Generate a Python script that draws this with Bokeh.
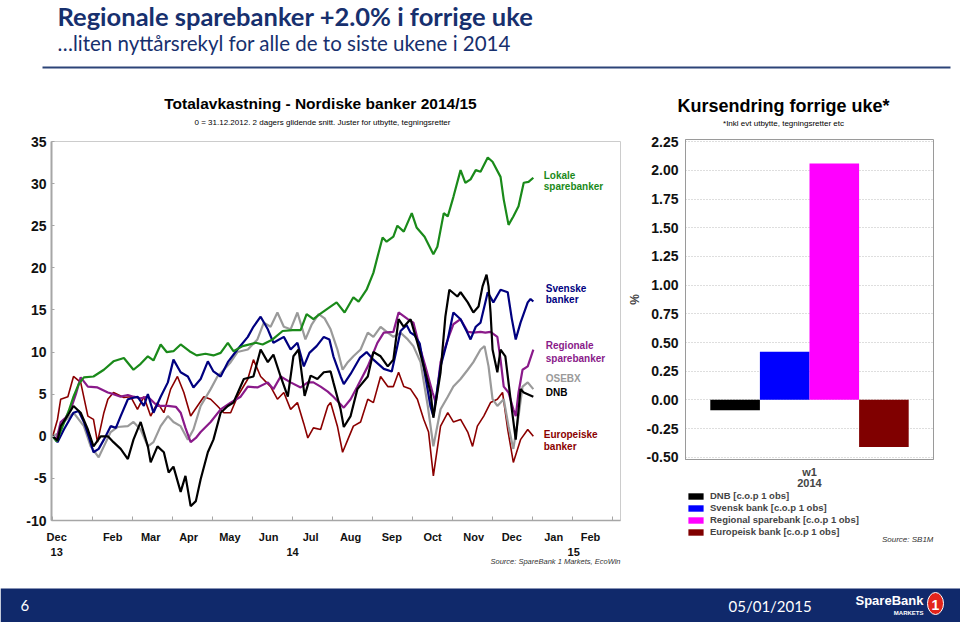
from bokeh.plotting import figure
from bokeh.layouts import column, row
from bokeh.models import (Range1d, FixedTicker, LinearAxis, Legend, LegendItem,
                          NumeralTickFormatter, ColumnDataSource)
from bokeh.core.properties import value
from bokeh.embed import file_html
from bokeh.resources import INLINE

# ---------------- data (x = months after 31.12.2013) ----------------
lokale_m = [0, 0.1, 0.25, 0.4, 0.52, 0.65, 0.78, 1.02, 1.28, 1.52, 1.78, 2.02, 2.2, 2.38, 2.52, 2.7, 2.85,
            3.02, 3.2, 3.42, 3.6, 3.82, 4.02, 4.2, 4.38, 4.52, 4.75, 5.08, 5.25, 5.5, 5.75, 6.0, 6.2, 6.35,
            6.52, 6.68, 6.92, 7.1, 7.3, 7.52, 7.65, 7.85, 8.02, 8.15, 8.25, 8.35, 8.52, 8.62, 8.78, 8.98,
            9.1, 9.3, 9.52, 9.62, 9.78, 9.88, 10.02, 10.2, 10.32, 10.45, 10.58, 10.7, 10.88, 11.0, 11.2,
            11.28, 11.4, 11.52, 11.65, 11.78, 11.9, 12.02]
lokale = [0, -0.6, 1.2, 3.0, 4.7, 6.2, 7.0, 7.1, 7.9, 8.9, 9.3, 7.9, 8.6, 9.5, 9.0, 10.9, 10.0,
          10.1, 10.9, 10.1, 9.6, 9.8, 9.6, 9.9, 11.1, 10.1, 10.7, 11.1, 10.9, 11.5, 12.5, 12.6, 12.6, 14.5,
          13.9, 14.5, 15.3, 15.9, 14.7, 16.5, 16.0, 17.4, 19.4, 21.8, 23.6, 23.1, 23.7, 25.0, 24.3, 26.5,
          24.8, 23.7, 21.6, 22.5, 26.5, 26.1, 28.4, 31.6, 30.1, 30.5, 31.6, 31.4, 33.1, 32.6, 30.8,
          28.1, 25.1, 26.1, 27.3, 30.1, 30.2, 30.7]

svenske_m = [0, 0.12, 0.28, 0.52, 0.65, 0.78, 0.9, 1.02, 1.15, 1.28, 1.45, 1.58, 1.7, 1.88, 2.12, 2.28,
             2.38, 2.52, 2.7, 2.88, 3.02, 3.2, 3.38, 3.52, 3.7, 3.88, 4.02, 4.2, 4.38, 4.62, 4.88, 5.02,
             5.2, 5.38, 5.52, 5.78, 5.95, 6.12, 6.28, 6.42, 6.6, 6.78, 6.92, 7.02, 7.2, 7.28, 7.45, 7.68,
             7.85, 8.02, 8.28, 8.48, 8.6, 8.7, 8.85, 8.95, 9.05, 9.18, 9.32, 9.45, 9.52, 9.7, 9.88, 10.02,
             10.2, 10.35, 10.45, 10.58, 10.7, 10.88, 11.02, 11.2, 11.38, 11.48, 11.58, 11.7, 11.88, 11.95,
             12.02]
svenske = [0, -0.7, 0.8, 2.8, 3.0, 1.7, 0.0, -1.9, -1.5, -0.4, 1.2, 1.0, 2.4, 4.4, 4.7, 3.6,
           5.0, 2.8, 4.7, 6.4, 9.1, 7.6, 7.1, 5.8, 6.8, 8.9, 7.7, 7.1, 8.8, 10.3, 11.8, 13.0,
           14.2, 12.7, 11.1, 11.8, 10.3, 11.1, 8.3, 9.9, 10.7, 11.8, 11.5, 9.5, 7.1, 6.2, 7.4, 9.3,
           10.0, 9.1, 8.0, 7.7, 10.3, 12.5, 13.2, 12.3, 12.0, 11.0, 7.1, 3.5, 2.4, 8.3, 11.5, 14.7,
           13.9, 12.5, 11.5, 13.0, 13.5, 17.1, 15.9, 17.4, 17.1, 14.0, 11.5, 13.5, 15.9, 16.3,
           16.0]

regionale_m = [0, 0.1, 0.2, 0.32, 0.45, 0.58, 0.7, 0.88, 1.12, 1.38, 1.52, 1.7, 1.88, 2.02, 2.2, 2.38,
               2.62, 2.88, 3.08, 3.2, 3.32, 3.45, 3.58, 3.7, 3.95, 4.2, 4.45, 4.7, 4.88, 5.12, 5.38, 5.52,
               5.7, 5.95, 6.2, 6.38, 6.52, 6.7, 6.88, 7.02, 7.28, 7.45, 7.62, 7.88, 8.12, 8.28, 8.52, 8.65,
               8.88, 9.02, 9.15, 9.32, 9.5, 9.58, 9.7, 9.88, 10.02, 10.2, 10.38, 10.52, 10.7, 10.82, 10.95,
               11.12, 11.2, 11.28, 11.4, 11.52, 11.58, 11.65, 11.75, 11.88, 12.02]
regionale = [0, -0.3, 1.7, 2.2, 3.2, 5.0, 7.0, 5.9, 5.8, 5.2, 5.0, 4.7, 4.9, 4.7, 4.5, 4.7,
             3.6, 3.6, 3.5, 2.8, 1.0, -0.7, -0.2, 0.5, 1.7, 3.2, 4.0, 4.7, 5.9, 5.8, 6.4, 5.6,
             7.1, 6.4, 5.8, 6.4, 6.4, 5.9, 5.3, 4.7, 3.4, 4.4, 5.9, 8.3, 11.1, 12.3, 12.4, 14.7,
             13.9, 13.5, 11.1, 8.3, 5.2, 4.0, 8.8, 11.5, 13.3, 13.9, 12.4, 12.3, 12.4, 12.3, 12.4,
             11.8, 9.1, 5.9, 5.2, 3.2, 2.4, 5.2, 7.9, 8.3, 10.3]

osebx_m = [0, 0.12, 0.28, 0.52, 0.78, 0.95, 1.15, 1.28, 1.45, 1.62, 1.88, 2.02, 2.2, 2.38, 2.52, 2.7,
           2.88, 3.02, 3.2, 3.38, 3.52, 3.7, 3.95, 4.12, 4.28, 4.45, 4.62, 4.88, 5.12, 5.28, 5.45, 5.62,
           5.78, 5.95, 6.12, 6.32, 6.48, 6.65, 6.8, 6.95, 7.12, 7.25, 7.38, 7.52, 7.7, 7.88, 8.02, 8.2,
           8.38, 8.52, 8.7, 8.88, 9.02, 9.2, 9.38, 9.52, 9.7, 9.88, 10.02, 10.2, 10.38, 10.52, 10.7,
           10.8, 10.9, 11.0, 11.12, 11.28, 11.4, 11.52, 11.65, 11.75, 11.88, 12.02]
osebx = [0, 0.3, 1.7, 2.8, 1.2, -1.2, -2.5, -1.2, 0.5, 1.1, 1.2, 1.7, 0.8, -1.2, -0.7, 1.2,
         2.4, 1.7, 1.2, -0.4, 0.8, 3.6, 5.6, 7.1, 7.9, 8.8, 10.0, 10.3, 11.5, 13.5, 13.0, 14.7,
         13.0, 12.7, 14.7, 11.5, 13.3, 14.5, 14.0, 12.7, 10.3, 7.9, 8.8, 9.5, 10.3, 12.3, 11.8, 13.0,
         12.3, 11.8, 12.3, 11.5, 10.7, 8.8, 3.6, -1.2, 3.2, 4.7, 5.9, 6.8, 7.9, 8.8, 10.3,
         10.7, 8.3, 4.4, 3.6, 4.4, 1.2, -1.5, 2.4, 5.9, 6.4, 5.6]

dnb_m = [0, 0.12, 0.2, 0.38, 0.52, 0.7, 0.88, 1.02, 1.2, 1.38, 1.52, 1.7, 1.88, 2.02, 2.2, 2.38, 2.45,
         2.62, 2.78, 2.9, 3.02, 3.2, 3.32, 3.45, 3.58, 3.7, 3.88, 4.02, 4.2, 4.38, 4.52, 4.78, 5.02,
         5.2, 5.38, 5.52, 5.7, 5.88, 6.02, 6.15, 6.3, 6.45, 6.62, 6.78, 6.95, 7.02, 7.2, 7.28, 7.45,
         7.62, 7.88, 8.02, 8.2, 8.38, 8.52, 8.65, 8.78, 8.95, 9.12, 9.28, 9.45, 9.52, 9.7, 9.82, 9.92,
         10.12, 10.2, 10.38, 10.52, 10.65, 10.75, 10.85, 10.9, 10.95, 11.0, 11.12, 11.2, 11.32, 11.45,
         11.58, 11.7, 11.78, 12.02]
dnb = [0, -0.5, 1.2, 2.5, 3.6, 2.8, 0.8, -1.2, 0.0, 0.0, -0.7, -1.5, -2.7, -0.4, 1.7, -1.2, -3.1,
       -1.2, -1.9, -4.3, -3.6, -6.6, -4.7, -8.3, -7.7, -5.1, -1.9, -0.4, 2.8, 3.6, 4.0, 6.8, 7.1,
       10.3, 8.8, 9.7, 7.1, 4.7, 9.5, 10.3, 4.8, 7.2, 6.8, 7.6, 7.7, 6.4, 3.2, 1.1, 2.4,
       5.6, 7.1, 10.0, 9.5, 8.3, 9.1, 13.9, 13.0, 13.9, 11.1, 8.3, 5.2, 2.2, 7.6, 14.2, 17.4,
       16.6, 17.1, 15.9, 14.7, 15.4, 17.8, 19.2, 17.8, 14.7, 10.3, 7.6, 10.3, 9.5, 4.4,
       -0.4, 5.6, 5.2, 4.7]

europa_m = [0, 0.12, 0.2, 0.38, 0.52, 0.7, 0.88, 1.02, 1.12, 1.28, 1.38, 1.52, 1.78, 1.95, 2.12, 2.28,
            2.45, 2.62, 2.78, 2.95, 3.12, 3.28, 3.45, 3.62, 3.78, 3.95, 4.12, 4.28, 4.45, 4.62, 4.88,
            5.02, 5.2, 5.45, 5.62, 5.78, 5.95, 6.12, 6.28, 6.38, 6.52, 6.7, 6.88, 6.95, 7.12, 7.25, 7.38,
            7.52, 7.7, 7.88, 8.02, 8.2, 8.38, 8.52, 8.65, 8.78, 8.95, 9.12, 9.28, 9.4, 9.52, 9.7, 9.88,
            10.02, 10.2, 10.38, 10.5, 10.62, 10.78, 10.95, 11.12, 11.25, 11.38, 11.52, 11.7, 11.88, 12.02]
europa = [0, 2.0, 4.4, 4.7, 7.1, 6.4, 2.4, 2.0, -0.7, 2.8, 4.4, 5.2, 4.6, 4.7, 3.2, 4.7,
          2.4, 4.0, 2.8, 5.6, 7.1, 5.2, 2.4, 3.6, 4.7, 4.4, 3.6, 2.8, 2.8, 4.7, 6.8,
          9.1, 7.1, 5.9, 4.4, 5.2, 3.2, 4.0, 1.5, -0.2, 1.0, 0.8, 3.6, 4.0, 1.2, -1.9, -0.4,
          1.2, 1.7, 4.4, 4.0, 7.1, 5.9, 5.9, 7.6, 5.9, 5.6, 4.4, 2.0, 0.5, -4.7, 1.2, 2.8,
          1.7, 2.0, 0.5, -1.2, 1.2, 2.4, 4.0, 4.4, 5.2, 0.8, -3.1, -0.4, 0.8, 0.0]

y_ticks = [-10, -5, 0, 5, 10, 15, 20, 25, 30, 35]
month_labels = ["Dec", "Feb", "Mar", "Apr", "May", "Jun", "Jul", "Aug", "Sep", "Oct", "Nov", "Dec", "Jan", "Feb"]
month_pos = [0.1, 1.5, 2.45, 3.4, 4.43, 5.4, 6.45, 7.45, 8.48, 9.5, 10.53, 11.48, 12.53, 13.45]
month_edges = [0, 1, 2, 3, 4, 5, 6, 7, 8, 9, 10, 11, 12, 13, 14]
year_labels = ["13", "14", "15"]
year_pos = [0.1, 6.0, 13.03]

bar_names = ["DNB [c.o.p 1 obs]", "Svensk bank [c.o.p 1 obs]",
             "Regional sparebank [c.o.p 1 obs]", "Europeisk bank [c.o.p 1 obs]"]
bar_values = [-0.09, 0.42, 2.06, -0.41]
bar_colors = ["#000000", "#0000ff", "#ff00ff", "#800000"]
bar_ticks = [-0.5, -0.25, 0.0, 0.25, 0.5, 0.75, 1.0, 1.25, 1.5, 1.75, 2.0, 2.25]

# ---------------- styles ----------------
ARIAL = "Liberation Sans, Arial, sans-serif"
CAL = "Lato, Open Sans, sans-serif"
NAVY = "#17306e"
BAR_NAVY = "#10296b"
AXC = "#a6a6a6"


def blank(width, height, x0, x1, y_top, y_bottom, **kw):
    opts = dict(min_border=0)
    opts.update(kw)
    f = figure(width=width, height=height, x_range=Range1d(x0, x1), y_range=Range1d(y_bottom, y_top),
               output_backend="svg", toolbar_location=None, x_axis_location=None,
               y_axis_location=None, **opts)
    f.grid.visible = False
    f.outline_line_color = None
    return f


def txt(f, x, y, s, font, size, color="#000000", style="normal", align="left"):
    f.text(x=[x], y=[y], text=[s], text_font=value(font), text_font_size=size,
           text_font_style=style, text_color=color, text_align=align, text_baseline="middle")


# ---------------- header (page y 0..132) ----------------
header = blank(960, 132, 0, 960, 0, 132)
txt(header, 57, 15, "Regionale sparebanker +2.0% i forrige uke", CAL, "25.5px", NAVY, "bold")
txt(header, 57, 42, "\u2026liten nyttårsrekyl for alle de to siste ukene i 2014", CAL, "20.5px", NAVY)
header.segment(x0=[42], y0=[67], x1=[950], y1=[67], line_color="#2c4478", line_width=2)
txt(header, 320, 103, "Totalavkastning - Nordiske banker 2014/15", ARIAL, "15.5px", "#000000", "bold", "center")
txt(header, 322, 122, "0 = 31.12.2012. 2 dagers glidende snitt. Juster for utbytte, tegningsretter",
    ARIAL, "8px", "#000000", "normal", "center")
txt(header, 783, 105, "Kursendring forrige uke*", ARIAL, "18px", "#000000", "bold", "center")
txt(header, 783, 123, "*Inkl evt utbytte, tegningsretter etc", ARIAL, "8px", "#000000", "normal", "center")

# ---------------- left chart (page y 132..558, x 0..624) ----------------
left = figure(width=624, height=426, x_range=Range1d(-0.03, 14.2), y_range=Range1d(-10, 35),
              output_backend="svg", toolbar_location=None,
              min_border_left=51, min_border_right=4, min_border_top=9, min_border_bottom=37)
left.grid.visible = False
left.outline_line_color = "#cccccc"

series = [
    (europa_m, europa, "#8b0000", 1.6),
    (osebx_m, osebx, "#9a9a9a", 2.2),
    (regionale_m, regionale, "#8a1a8a", 2.2),
    (svenske_m, svenske, "#000080", 2.2),
    (lokale_m, lokale, "#1a8a1a", 2.2),
    (dnb_m, dnb, "#000000", 2.2),
]
for xs, ys, col, w in series:
    left.line(xs, ys, line_color=col, line_width=w)

lab = ColumnDataSource(dict(
    x=[12.28, 12.28, 12.33, 12.33, 12.33, 12.33, 12.33, 12.33, 12.28, 12.28],
    y=[31.0, 29.6, 17.5, 16.2, 10.8, 9.2, 6.9, 5.2, 0.2, -1.2],
    t=["Lokale", "sparebanker", "Svenske", "banker", "Regionale", "sparebanker", "OSEBX", "DNB",
       "Europeiske", "banker"],
    c=["#1a8a1a", "#1a8a1a", "#000080", "#000080", "#8a1a8a", "#8a1a8a", "#9a9a9a", "#000000",
       "#8b0000", "#8b0000"]))
left.text(x="x", y="y", text="t", text_color="c", source=lab, text_font=value(ARIAL),
          text_font_size="10px", text_font_style="bold", text_baseline="middle")

ya = left.yaxis[0]
ya.ticker = FixedTicker(ticks=y_ticks)
ya.major_label_overrides = {t: str(t) for t in y_ticks}
ya.major_label_text_font = ARIAL
ya.major_label_text_font_style = "bold"
ya.major_label_text_font_size = "14px"
ya.major_label_text_color = "#111111"
ya.axis_line_color = AXC
ya.axis_line_width = 2
ya.major_tick_in = 3
ya.major_tick_out = 0
ya.major_tick_line_color = AXC
ya.minor_tick_line_color = None
ya.major_label_standoff = 5

xa = left.xaxis[0]
xa.ticker = FixedTicker(ticks=month_pos, minor_ticks=month_edges)
xa.major_label_overrides = dict(zip(month_pos, month_labels))
xa.major_tick_line_color = None
xa.minor_tick_in = 4
xa.minor_tick_out = 0
xa.minor_tick_line_color = AXC
xa.axis_line_color = AXC
xa.axis_line_width = 1.5
xa.major_label_standoff = 4
xa.major_label_text_font = ARIAL
xa.major_label_text_font_style = "bold"
xa.major_label_text_font_size = "11px"
xa.major_label_text_color = "#111111"

yr = LinearAxis(ticker=FixedTicker(ticks=year_pos), major_label_overrides=dict(zip(year_pos, year_labels)),
                axis_line_color=None, major_tick_line_color=None, minor_tick_line_color=None,
                major_label_standoff=-4, major_label_text_font=ARIAL, major_label_text_font_style="bold",
                major_label_text_font_size="11px", major_label_text_color="#111111")
left.add_layout(yr, "below")

# ---------------- right chart (page y 132..489, x 624..960) ----------------
right = figure(width=336, height=357, x_range=Range1d(0, 5), y_range=Range1d(-0.52, 2.27),
               output_backend="svg", toolbar_location=None,
               min_border_left=61, min_border_right=27, min_border_top=7, min_border_bottom=30)
right.outline_line_color = "#9a9a9a"
right.xgrid.visible = False
for i, (v, c) in enumerate(zip(bar_values, bar_colors)):
    right.vbar(x=[i + 1], top=[v], bottom=0, width=1, fill_color=c, line_color=None)

rya = right.yaxis[0]
rya.ticker = FixedTicker(ticks=bar_ticks)
rya.formatter = NumeralTickFormatter(format="0.00")
rya.major_label_text_font = ARIAL
rya.major_label_text_font_style = "bold"
rya.major_label_text_font_size = "14px"
rya.major_label_text_color = "#111111"
rya.axis_line_color = "#9a9a9a"
rya.major_tick_line_color = None
rya.minor_tick_line_color = None
rya.major_label_standoff = 1
rya.axis_label = "%"
rya.axis_label_text_font = ARIAL
rya.axis_label_text_font_style = "bold"
rya.axis_label_text_font_size = "12px"
rya.axis_label_standoff = 2
right.ygrid.ticker = FixedTicker(ticks=bar_ticks)
right.ygrid.grid_line_color = "#bdbdbd"
right.ygrid.grid_line_dash = "1 2"

rxa = right.xaxis[0]
rxa.ticker = FixedTicker(ticks=[2.5])
rxa.major_label_overrides = {2.5: "w1"}
rxa.major_tick_line_color = None
rxa.minor_tick_line_color = None
rxa.axis_line_color = "#9a9a9a"
rxa.major_label_standoff = 0
rxa.major_label_text_font = ARIAL
rxa.major_label_text_font_style = "bold"
rxa.major_label_text_font_size = "11px"
ryr = LinearAxis(ticker=FixedTicker(ticks=[2.5]), major_label_overrides={2.5: "2014"},
                 axis_line_color=None, major_tick_line_color=None, minor_tick_line_color=None,
                 major_label_standoff=-8, major_label_text_font=ARIAL, major_label_text_font_style="bold",
                 major_label_text_font_size="11px")
right.add_layout(ryr, "below")

# ---------------- legend panel (page y 489..558, frame x 685..933) ----------------
legfig = blank(336, 69, 685, 933, 489, 558, min_border_left=61, min_border_right=27)
items = []
for nm, v, c in zip(bar_names, bar_values, bar_colors):
    r = legfig.vbar(x=[float("nan")], top=[v], width=1, fill_color=c, line_color=None)
    items.append(LegendItem(label=nm, renderers=[r]))
legend = Legend(items=items, location=(1, 21), orientation="vertical", margin=0, padding=0,
                spacing=1, glyph_width=19, glyph_height=8, label_height=10, label_standoff=5,
                label_text_font=ARIAL, label_text_font_style="bold", label_text_font_size="9.5px",
                border_line_color=None, background_fill_alpha=0)
legfig.add_layout(legend)
txt(legfig, 933, 539, "Source: SB1M", ARIAL, "8px", "#333333", "italic", "right")

# ---------------- bottom strip (page y 558..622) ----------------
footer = blank(960, 64, 0, 960, 558, 622)
txt(footer, 620, 561, "Source: SpareBank 1 Markets, EcoWin", ARIAL, "7.5px", "#333333", "italic", "right")
footer.quad(left=0, right=960, top=588, bottom=622, fill_color=BAR_NAVY, line_color=None)
txt(footer, 20, 605, "6", CAL, "15px", "#ffffff")
txt(footer, 728, 605, "05/01/2015", CAL, "15px", "#ffffff")
txt(footer, 855, 600, "SpareBank", ARIAL, "13px", "#ffffff", "bold")
txt(footer, 923, 612, "MARKETS", ARIAL, "6px", "#ffffff", "bold", "right")
footer.ellipse(x=[935], y=[603], width=16, height=22, fill_color="#e3241b", line_color="#ffffff", line_width=1)
txt(footer, 935, 604, "1", ARIAL, "14px", "#ffffff", "bold", "center")

page = column(header, row(left, column(right, legfig)), footer)
open("out.html", "w").write(file_html(page, INLINE))
